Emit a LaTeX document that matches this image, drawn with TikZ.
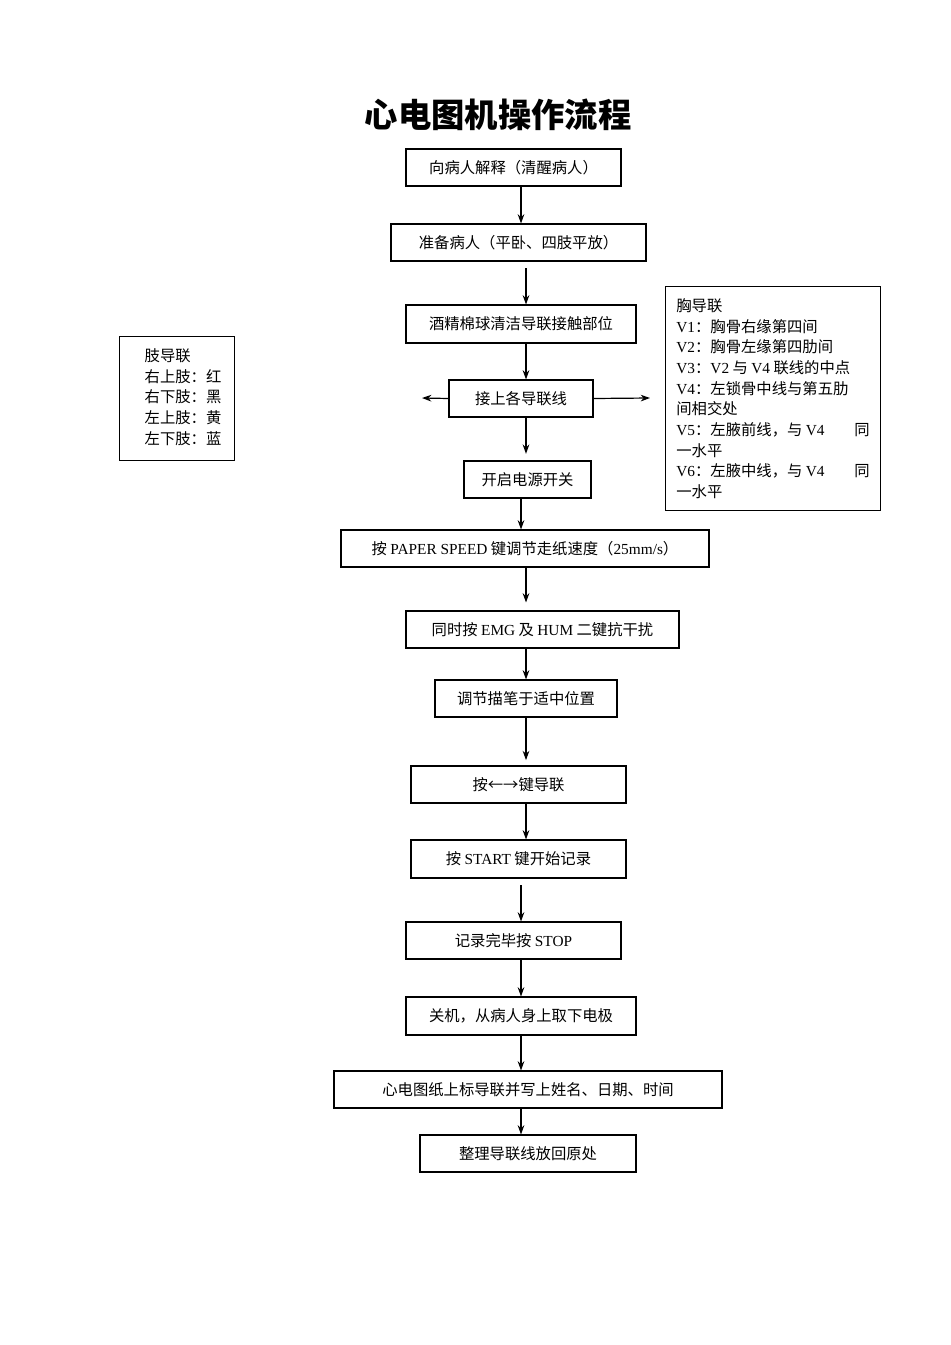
\documentclass[tikz,border=0pt]{standalone}
\usepackage{fontspec}
\setmainfont{Noto Sans CJK SC}
\newfontfamily\latf{Liberation Serif}
\newcommand{\lt}[1]{{\latf #1}}
\usetikzlibrary{arrows.meta}
\begin{document}
\begin{tikzpicture}[x=0.75pt,y=-0.75pt,
  bx/.style={draw,line width=0.8pt,inner sep=0pt,font=\fontsize{11.5}{14}\selectfont},
  ar/.style={-{Stealth[length=7pt,width=5pt]},line width=0.9pt}]
\useasboundingbox (0,0) rectangle (950,1345);
\node[font=\bfseries\fontsize{25}{28}\selectfont] (title) at (498,115) {心电图机操作流程};
\newcommand{\B}[6]{\node[bx,minimum width={(#3-#2)*0.75pt},minimum height={(#5-#4)*0.75pt}] (#1) at ({(#2+#3)/2},{(#4+#5)/2}) {#6};}
\B{n1}{406}{621}{149}{186}{向病人解释（清醒病人）}
\B{n2}{391}{646}{224}{261}{准备病人（平卧、四肢平放）}
\B{n3}{406}{636}{305}{343}{酒精棉球清洁导联接触部位}
\B{n4}{449}{593}{380}{417}{接上各导联线}
\B{n5}{464}{591}{461}{498}{开启电源开关}
\B{n6}{341}{709}{530}{567}{按 \lt{PAPER SPEED} 键调节走纸速度（\lt{25mm/s}）}
\B{n7}{406}{679}{611}{648}{同时按 \lt{EMG} 及 \lt{HUM} 二键抗干扰}
\B{n8}{435}{617}{680}{717}{调节描笔于适中位置}
\B{n9}{411}{626}{766}{803}{按←→键导联}
\B{n10}{411}{626}{840}{878}{按 \lt{START} 键开始记录}
\B{n11}{406}{621}{922}{959}{记录完毕按 \lt{STOP}}
\B{n12}{406}{636}{997}{1035}{关机，从病人身上取下电极}
\B{n13}{334}{722}{1071}{1108}{心电图纸上标导联并写上姓名、日期、时间}
\B{n14}{420}{636}{1135}{1172}{整理导联线放回原处}
\node[draw,line width=0.8pt,minimum width=86.25pt,minimum height=93pt,align=left,anchor=north west,inner sep=0pt,font=\fontsize{11.5}{15.5}\selectfont] (limb) at (119,336)
 {\hspace*{9pt}\begin{tabular}{@{}l@{}}肢导联\\右上肢：红\\右下肢：黑\\左上肢：黄\\左下肢：蓝\end{tabular}};
\node[draw,line width=0.8pt,minimum width=161.25pt,minimum height=168pt,anchor=north west,inner sep=0pt,font=\fontsize{11.5}{15.5}\selectfont] (chest) at (665,286)
 {\begin{minipage}{145pt}\raggedright
 胸导联\\
 \lt{V1}：胸骨右缘第四间\\
 \lt{V2}：胸骨左缘第四肋间\\
 \lt{V3}：\lt{V2} 与 \lt{V4} 联线的中点\\
 \hbox to 145pt{\lt{V4}：左锁骨中线与第五肋\hfil}
 间相交处\\
 \hbox to 145pt{\lt{V5}：左腋前线，与 \lt{V4}\hfill 同}
 一水平\\
 \hbox to 145pt{\lt{V6}：左腋中线，与 \lt{V4}\hfill 同}
 一水平\end{minipage}};
\coordinate (L) at (422,398);
\coordinate (R) at (650,398);
\draw[ar] (n1.south -| 521,0) -- (n2.north -| 521,0);
\draw[ar] ([yshift=-5pt]n2.south -| 526,0) -- (n3.north -| 526,0);
\draw[ar] (n3.south -| 526,0) -- (n4.north -| 526,0);
\draw[ar] (n4.south -| 526,0) -- ([yshift=5pt]n5.north -| 526,0);
\draw[ar] (n4.west) -- (L);
\draw[ar] (n4.east) -- (R);
\draw[ar] (n5.south -| 521,0) -- (n6.north -| 521,0);
\draw[ar] (n6.south -| 526,0) -- ([yshift=6pt]n7.north -| 526,0);
\draw[ar] (n7.south -| 526,0) -- (n8.north -| 526,0);
\draw[ar] (n8.south -| 526,0) -- ([yshift=4pt]n9.north -| 526,0);
\draw[ar] (n9.south -| 526,0) -- (n10.north -| 526,0);
\draw[ar] ([yshift=-5pt]n10.south -| 521,0) -- (n11.north -| 521,0);
\draw[ar] (n11.south -| 521,0) -- (n12.north -| 521,0);
\draw[ar] (n12.south -| 521,0) -- (n13.north -| 521,0);
\draw[ar] (n13.south -| 521,0) -- (n14.north -| 521,0);
\end{tikzpicture}
\end{document}
